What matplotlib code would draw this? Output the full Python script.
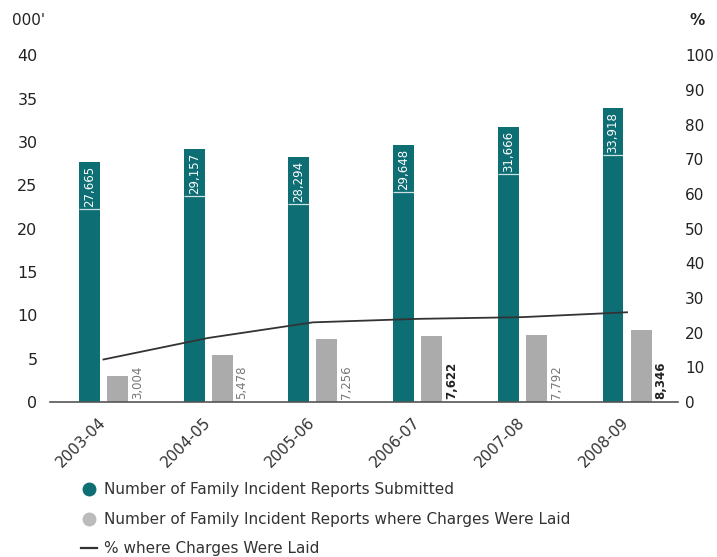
import matplotlib
matplotlib.use("Agg")
import matplotlib.pyplot as plt
from matplotlib.lines import Line2D
import numpy as np

plt.rcParams['font.family'] = ['DejaVu Sans']

years = ["2003-04", "2004-05", "2005-06", "2006-07", "2007-08", "2008-09"]
reports_submitted = [27665, 29157, 28294, 29648, 31666, 33918]
reports_charged = [3004, 5478, 7256, 7622, 7792, 8346]
pct_charged = [12.3, 18.5, 23.0, 24.0, 24.5, 25.9]
charged_label_bold = [False, False, False, True, False, True]

teal = "#0d6e73"
grey = "#ababab"

fig = plt.figure(figsize=(7.17, 5.57), dpi=100)
ax = fig.add_axes([0.0697, 0.278, 0.8759, 0.623])
ax2 = ax.twinx()

x = np.arange(len(years))
w = 0.2
off = 0.134
sub_k = np.array(reports_submitted) / 1000.0
chg_k = np.array(reports_charged) / 1000.0

ax.bar(x - off, sub_k, width=w, color=teal, zorder=2)
ax.bar(x + off, chg_k, width=w, color=grey, zorder=2)
# divider under the value label inside the teal bars
ax.hlines(sub_k - 5.4, x - off - w / 2, x - off + w / 2, color="white", lw=0.9,
          alpha=0.8, zorder=3)

for xi, v in zip(x, reports_submitted):
    ax.text(xi - off, v / 1000.0 - 0.45, f"{v:,}", rotation=90, ha="center", va="top",
            color="white", fontsize=8.5, zorder=3)
for xi, v, b in zip(x, reports_charged, charged_label_bold):
    ax.text(xi + off + 0.19, 0.35, f"{v:,}", rotation=90, ha="center", va="bottom",
            color="#222222" if b else "#777777", fontsize=8.5,
            fontweight="bold" if b else "normal", zorder=3)

ax2.plot(x, pct_charged, color="#333333", lw=1.3, zorder=4)

ax.set_xlim(-0.511, 5.487)
ax.set_ylim(0, 40)
ax2.set_ylim(0, 100)
ax.set_yticks(np.arange(0, 41, 5))
ax2.set_yticks(np.arange(0, 101, 10))
ax.set_xticks(x)
ax.set_xticklabels(years, rotation=45, ha="right", va="center", rotation_mode="anchor",
                   fontsize=11, color="#333333")

for a in (ax, ax2):
    for s in ("top", "right", "left", "bottom"):
        a.spines[s].set_visible(False)
ax.spines["bottom"].set_visible(True)
ax.spines["bottom"].set_color("#555555")
ax.spines["bottom"].set_linewidth(1.2)

ax.tick_params(axis="y", length=0, pad=9, labelsize=11.5, labelcolor="#222222")
ax2.tick_params(axis="y", length=0, pad=5, labelsize=11, labelcolor="#222222")
ax.tick_params(axis="x", length=0, pad=13)

fig.text(0.017, 0.963, "000'", fontsize=11, color="#222222", ha="left", va="center")
fig.text(0.962, 0.963, "%", fontsize=11, color="#222222", ha="left", va="center",
         fontweight="bold")

handles = [
    Line2D([], [], marker="o", ls="none", color=teal, markersize=9),
    Line2D([], [], marker="o", ls="none", color="#bbbbbb", markersize=9),
    Line2D([], [], color="#333333", lw=1.6),
]
labels = [
    "Number of Family Incident Reports Submitted",
    "Number of Family Incident Reports where Charges Were Laid",
    "% where Charges Were Laid",
]
fig.legend(handles, labels, loc="upper left", bbox_to_anchor=(0.105, 0.145),
           frameon=False, fontsize=11, handlelength=1.0, handletextpad=0.45,
           labelspacing=0.95, borderaxespad=0, labelcolor="#333333")

fig.savefig("out.png", dpi=100)
